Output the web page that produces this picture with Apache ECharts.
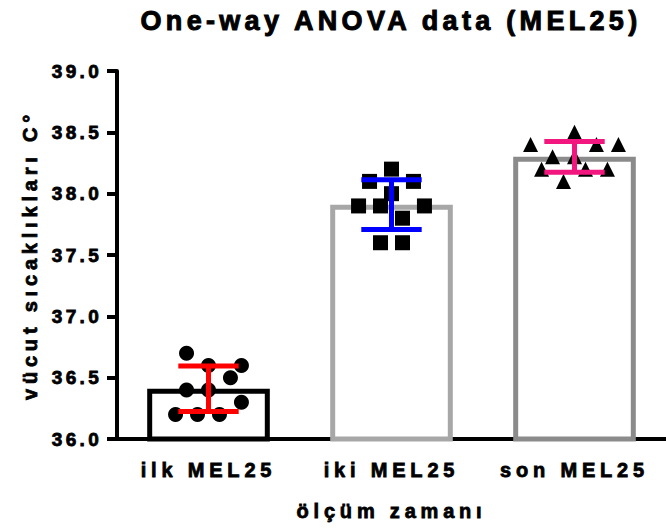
<!DOCTYPE html>
<html>
<head>
<meta charset="utf-8">
<script src="https://cdn.jsdelivr.net/npm/echarts@6/dist/echarts.min.js"></script>
<style>
  html, body { margin: 0; padding: 0; background: #fff; }
  #chart { width: 666px; height: 529px; }
  #chart text { letter-spacing: 5px; }
</style>
</head>
<body>
<div id="chart"></div>
<script>
// ---- data ----
const categories = ['ilk MEL25', 'iki MEL25', 'son MEL25'];
const ilkValues = [36.7, 36.6, 36.6, 36.5, 36.4, 36.4, 36.3, 36.2, 36.2, 36.2];
const ikiValues = [38.2, 38.1, 38.1, 38.0, 37.9, 37.9, 37.9, 37.8, 37.6, 37.6];
const sonValues = [38.5, 38.4, 38.4, 38.4, 38.3, 38.3, 38.2, 38.2, 38.2, 38.1];
// horizontal dodge of each point, in dodge steps (scatter spread)
const ilkDodge = [-2, 0, 3, 2, -2, 0, 3, -3, -1, 1];
const ikiDodge = [0, -2, 2, 0, -3, -1, 3, 1, -1, 1];
const sonDodge = [0, -4, 2, 4, -2, 0, -3, 1, 3, -1];
const yTicks = [36.0, 36.5, 37.0, 37.5, 38.0, 38.5, 39.0];

// ---- styling ----
const FONT = 'Liberation Sans, Arial, sans-serif';
const groups = [ilkValues, ikiValues, sonValues];
const dodges = [ilkDodge, ikiDodge, sonDodge];
const barBorder = ['#000000', '#a7a7a7', '#8b8b8b'];
const errColor = ['#ff0000', '#0000ff', '#f2167f'];
const symbols = ['circle', 'rect', 'triangle'];
const DODGE_STEP = 0.06;
const TITLE_SIZE = 27, AXIS_SIZE = 20, TICK_SIZE = 19;
const heavy = { fontFamily: FONT, fontWeight: 'bold', color: '#000', textBorderColor: '#000', textBorderWidth: 0.8 };

function mean(a) { return a.reduce((s, v) => s + v, 0) / a.length; }
function sd(a) { const m = mean(a); return Math.sqrt(a.reduce((s, v) => s + (v - m) * (v - m), 0) / (a.length - 1)); }

const means = groups.map(mean);
const sds = groups.map(sd);

const chart = echarts.init(document.getElementById('chart'), null, { renderer: 'svg' });

const scatterSeries = groups.map((vals, gi) => ({
  type: 'scatter',
  xAxisIndex: 1,
  yAxisIndex: 0,
  symbol: symbols[gi],
  symbolSize: 15,
  itemStyle: { color: '#000', opacity: 1 },
  z: 3,
  silent: true,
  data: vals.map((v, k) => [gi + dodges[gi][k] * DODGE_STEP, v])
}));

const option = {
  animation: false,
  backgroundColor: '#fff',
  title: {
    text: 'One-way ANOVA data (MEL25)',
    left: 391,
    top: 7,
    padding: 0,
    textAlign: 'center',
    textStyle: Object.assign({}, heavy, { fontSize: TITLE_SIZE, textBorderWidth: 1 })
  },
  grid: { left: 117, right: 0, top: 71, bottom: 90, containLabel: false },
  xAxis: [
    {
      type: 'category',
      data: categories,
      boundaryGap: true,
      name: 'ölçüm zamanı',
      nameLocation: 'middle',
      nameGap: 62,
      nameTextStyle: Object.assign({}, heavy, { fontSize: AXIS_SIZE }),
      axisLine: { lineStyle: { color: '#000', width: 4 } },
      axisTick: { alignWithLabel: true, length: 9, lineStyle: { color: '#000', width: 4 } },
      axisLabel: Object.assign({}, heavy, { fontSize: AXIS_SIZE, margin: 21 }),
      splitLine: { show: false }
    },
    {
      type: 'value',
      min: -0.5,
      max: 2.5,
      show: false
    }
  ],
  yAxis: {
    type: 'value',
    min: 36,
    max: 39,
    interval: 0.5,
    name: 'vücut sıcaklıkları C°',
    nameLocation: 'middle',
    nameGap: 77,
    nameTextStyle: Object.assign({}, heavy, { fontSize: AXIS_SIZE }),
    axisLine: { show: true, onZero: false, lineStyle: { color: '#000', width: 4 } },
    axisTick: { show: true, length: 10, lineStyle: { color: '#000', width: 4 } },
    axisLabel: Object.assign({}, heavy, {
      fontSize: TICK_SIZE, margin: 15,
      formatter: v => { const t = yTicks.find(x => Math.abs(x - v) < 1e-9); return t !== undefined ? t.toFixed(1) : ''; }
    }),
    splitLine: { show: false }
  },
  series: [
    {
      type: 'bar',
      xAxisIndex: 0,
      barWidth: '67%',
      z: 1,
      silent: true,
      data: means.map((m, i) => ({
        value: m,
        itemStyle: { color: '#fff', borderColor: barBorder[i], borderWidth: 5 }
      }))
    },
    ...scatterSeries,
    {
      type: 'custom',
      xAxisIndex: 0,
      yAxisIndex: 0,
      z: 5,
      silent: true,
      data: means.map((m, i) => [i, m - sds[i], m + sds[i]]),
      renderItem: function (params, api) {
        const i = api.value(0);
        const lo = api.coord([i, api.value(1)]);
        const hi = api.coord([i, api.value(2)]);
        const band = api.size([1, 0])[0];
        const hw = band * 0.165;
        const style = { stroke: errColor[i], lineWidth: 5, fill: null };
        return {
          type: 'group',
          children: [
            { type: 'line', shape: { x1: lo[0], y1: lo[1], x2: hi[0], y2: hi[1] }, style },
            { type: 'line', shape: { x1: hi[0] - hw, y1: hi[1], x2: hi[0] + hw, y2: hi[1] }, style },
            { type: 'line', shape: { x1: lo[0] - hw, y1: lo[1], x2: lo[0] + hw, y2: lo[1] }, style }
          ]
        };
      }
    }
  ]
};

chart.setOption(option);

// letter spacing as in the reference (spaced-out lettering)
function spaceText() {
  document.querySelectorAll('#chart text').forEach(t => {
    const fs = parseFloat(getComputedStyle(t).fontSize);
    let ls = 4.8;
    if (fs >= TITLE_SIZE - 0.5) ls = 4.3;
    else if (Math.abs(fs - TICK_SIZE) < 0.5) ls = 3.3;
    t.style.letterSpacing = ls + 'px';
  });
}
spaceText();
chart.on('finished', spaceText);
</script>
</body>
</html>
